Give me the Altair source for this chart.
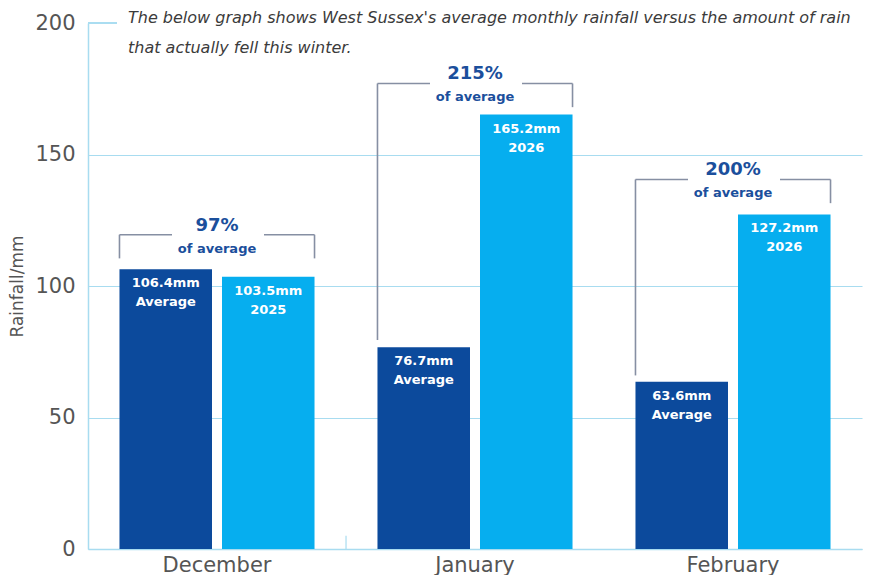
import altair as alt
import pandas as pd

months = ["December", "January", "February"]
average_mm = [106.4, 76.7, 63.6]
actual_mm = [103.5, 165.2, 127.2]
actual_year = ["2025", "2026", "2026"]
pct_of_average = ["97%", "215%", "200%"]
bracket_top = [119.5, 177.0, 140.5]
bracket_left_end = [110.5, 79.5, 66.0]
bracket_right_end = [110.5, 168.0, 131.5]
y_ticks = [0, 50, 100, 150, 200]
title_lines = [
    "The below graph shows West Sussex's average monthly rainfall versus the amount of rain",
    "that actually fell this winter.",
]

DARK = "#0c4a9c"
LIGHT = "#06aeef"
GRID = "#a8dcf0"
BRACKET = "#868fa3"
PCT = "#1b4f9c"
TXT = "#555555"
FONT = "DejaVu Sans"
BOLD_FONT = "DejaVu Sans"

bars_df = pd.DataFrame({
    "month": months * 2,
    "series": ["Average"] * 3 + ["Actual"] * 3,
    "value": average_mm + actual_mm,
    "line1": [f"{v}mm" for v in average_mm + actual_mm],
    "line2": ["Average"] * 3 + actual_year,
})
br_df = pd.DataFrame({
    "month": months,
    "top": bracket_top,
    "lend": bracket_left_end,
    "rend": bracket_right_end,
    "pct": pct_of_average,
    "sub": ["of average"] * 3,
})

xscale = alt.Scale(paddingInner=0.244, paddingOuter=0.122)
yscale = alt.Scale(domain=[0, 200], nice=False)


def X(bp=None):
    kw = dict(sort=months, scale=xscale, title=None)
    if bp is not None:
        kw["bandPosition"] = bp
    return alt.X("month:N", **kw)


xoff = alt.XOffset("series:N", sort=["Average", "Actual"], scale=alt.Scale(paddingInner=0.0976))

bars = alt.Chart(bars_df).mark_bar().encode(
    x=alt.X("month:N", sort=months, scale=xscale, title=None,
            axis=alt.Axis(labelAngle=0, ticks=False, domainColor=GRID, domainWidth=1.5,
                          labelFontSize=21, labelColor=TXT, labelFont=FONT, labelPadding=5)),
    xOffset=xoff,
    y=alt.Y("value:Q", scale=yscale,
            axis=alt.Axis(values=y_ticks, title="Rainfall/mm", ticks=False,
                          domainColor=GRID, domainWidth=1.5, gridColor=GRID, gridWidth=1.2,
                          gridOpacity={"condition": {"test": "datum.value === 200", "value": 0}, "value": 1},
                          labelFontSize=21, labelColor=TXT, labelFont=FONT, labelPadding=13,
                          titleFontSize=17, titleFontWeight="normal", titleColor=TXT,
                          titleFont=FONT, titlePadding=8)),
    color=alt.Color("series:N", sort=["Average", "Actual"],
                    scale=alt.Scale(domain=["Average", "Actual"], range=[DARK, LIGHT]), legend=None),
)

lab1 = alt.Chart(bars_df).mark_text(color="white", font=BOLD_FONT, fontWeight="bold", fontSize=13,
                                    baseline="middle", dy=14).encode(
    x=X(), xOffset=xoff, y=alt.Y("value:Q", scale=yscale), text="line1:N")
lab2 = alt.Chart(bars_df).mark_text(color="white", font=BOLD_FONT, fontWeight="bold", fontSize=13,
                                    baseline="middle", dy=33).encode(
    x=X(), xOffset=xoff, y=alt.Y("value:Q", scale=yscale), text="line2:N")

rule_style = dict(color=BRACKET, strokeWidth=1.6)
h_left = alt.Chart(br_df).mark_rule(x2Offset=-45, **rule_style).encode(
    x=X(0), x2=alt.X2("month:N"), y=alt.Y("top:Q", scale=yscale))
h_right = alt.Chart(br_df).mark_rule(x2Offset=47, **rule_style).encode(
    x=X(1), x2=alt.X2("month:N"), y=alt.Y("top:Q", scale=yscale))
v_left = alt.Chart(br_df).mark_rule(**rule_style).encode(
    x=X(0), y=alt.Y("top:Q", scale=yscale), y2="lend:Q")
v_right = alt.Chart(br_df).mark_rule(**rule_style).encode(
    x=X(1), y=alt.Y("top:Q", scale=yscale), y2="rend:Q")

pct = alt.Chart(br_df).mark_text(color=PCT, font=BOLD_FONT, fontWeight="bold", fontSize=18,
                                 baseline="middle", dy=-9).encode(
    x=X(), y=alt.Y("top:Q", scale=yscale), text="pct:N")
sub = alt.Chart(br_df).mark_text(color=PCT, font=BOLD_FONT, fontWeight="bold", fontSize=13,
                                 baseline="middle", dy=14).encode(
    x=X(), y=alt.Y("top:Q", scale=yscale), text="sub:N")

top_rule = alt.Chart(br_df).mark_rule(color=GRID, strokeWidth=1.5).encode(
    x=alt.value(0), x2=alt.value(29), y=alt.Y(datum=200, scale=yscale))

sep_tick = alt.Chart(br_df).transform_filter(alt.datum.month == "December").mark_rule(
    color=GRID, strokeWidth=1.2, xOffset=31.5).encode(
    x=X(1), y=alt.Y(datum=0, scale=yscale), y2=alt.Y2(datum=5))

title_style = dict(align="left", baseline="middle", font="DejaVu Sans", fontStyle="italic",
                   fontSize=16, color="#3b3b3b")
title1 = alt.Chart(br_df).transform_filter(alt.datum.month == "December").mark_text(
    text=title_lines[0], **title_style).encode(x=alt.value(40), y=alt.value(-5))
title2 = alt.Chart(br_df).transform_filter(alt.datum.month == "December").mark_text(
    text=title_lines[1], **title_style).encode(x=alt.value(40), y=alt.value(25))

chart = alt.layer(bars, lab1, lab2, h_left, h_right, v_left, v_right, pct, sub, top_rule, sep_tick,
                  title1, title2).properties(
    width=774, height=526,
    autosize=alt.AutoSizeParams(type="none"),
    padding={"left": 80, "top": 15, "right": 8, "bottom": 26},
).configure_view(stroke=None)

chart.save("out.html", embed_options={"renderer": "svg", "actions": False})
